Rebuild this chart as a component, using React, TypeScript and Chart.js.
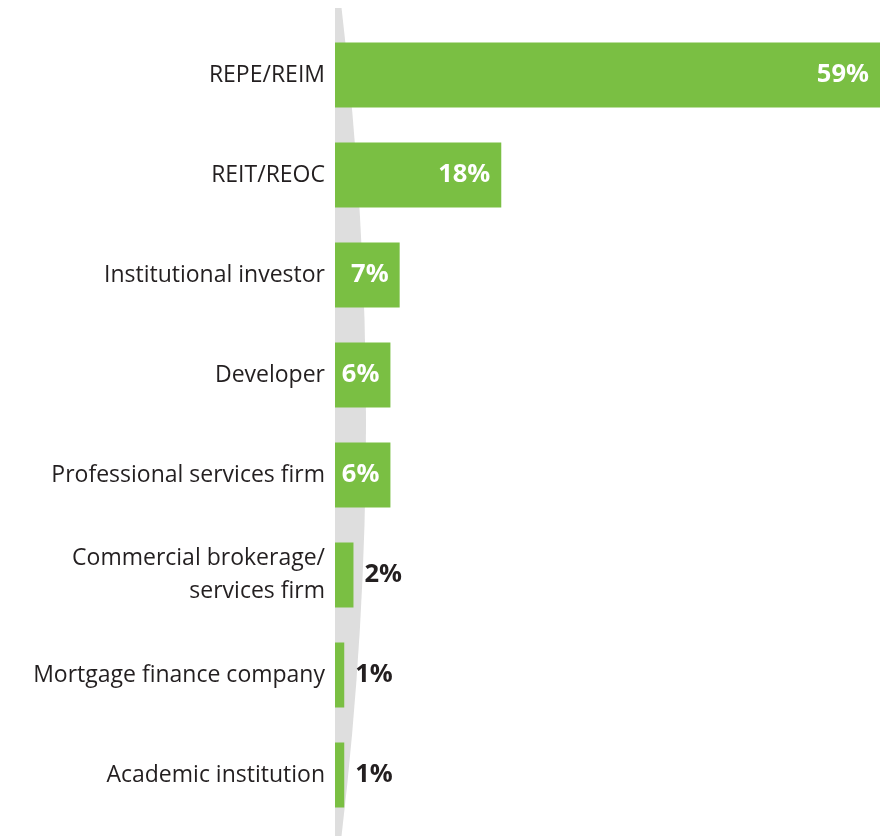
import React, { useEffect, useRef } from "react";
import { Chart, registerables } from "chart.js";

Chart.register(...registerables);

const categories: (string | string[])[] = [
  "REPE/REIM",
  "REIT/REOC",
  "Institutional investor",
  "Developer",
  "Professional services firm",
  ["Commercial brokerage/", "services firm"],
  "Mortgage finance company",
  "Academic institution",
];
const values: number[] = [59, 18, 7, 6, 6, 2, 1, 1];
const valueLabels: string[] = ["59%", "18%", "7%", "6%", "6%", "2%", "1%", "1%"];

const GREEN = "#7ABF43";
const DARK = "#231F20";
const FONT = "'Open Sans', 'Noto Sans', sans-serif";

const crescentPlugin = {
  id: "crescent",
  beforeDatasetsDraw(chart: any) {
    const { ctx, chartArea } = chart;
    const L = chartArea.left;
    const mid = 422;
    const half = 466;
    ctx.save();
    ctx.beginPath();
    ctx.rect(0, 8, chart.width, chart.height);
    ctx.clip();
    ctx.beginPath();
    ctx.moveTo(L, mid - half);
    ctx.quadraticCurveTo(L + 62, mid, L, mid + half);
    ctx.closePath();
    ctx.fillStyle = "#DEDEDE";
    ctx.fill();
    ctx.restore();
  },
};

const valueLabelPlugin = {
  id: "valueLabels",
  afterDatasetsDraw(chart: any) {
    const { ctx } = chart;
    const meta = chart.getDatasetMeta(0);
    ctx.save();
    ctx.font = `bold 25.5px ${FONT}`;
    ctx.textBaseline = "middle";
    meta.data.forEach((bar: any, i: number) => {
      const v = values[i];
      const label = valueLabels[i];
      if (v >= 6) {
        ctx.fillStyle = "#FFFFFF";
        ctx.textAlign = "right";
        ctx.fillText(label, bar.x - 11, bar.y);
      } else {
        ctx.fillStyle = DARK;
        ctx.textAlign = "left";
        ctx.fillText(label, bar.x + 11, bar.y);
      }
    });
    ctx.restore();
  },
};

export default function App() {
  const ref = useRef<HTMLCanvasElement | null>(null);
  useEffect(() => {
    document.body.style.margin = "0";
    if (!ref.current) return;
    const chart = new Chart(ref.current, {
      type: "bar",
      data: {
        labels: categories,
        datasets: [
          {
            data: values,
            backgroundColor: GREEN,
            borderWidth: 0,
            barPercentage: 0.65,
            categoryPercentage: 1,
          },
        ],
      },
      options: {
        indexAxis: "y",
        responsive: false,
        animation: false,
        layout: { padding: { top: 25, bottom: 11, right: 6, left: 0 } },
        plugins: {
          legend: { display: false },
          tooltip: { enabled: false },
        },
        scales: {
          x: {
            display: false,
            min: 0,
            max: 59,
          },
          y: {
            grid: { display: false, drawTicks: false },
            border: { display: false },
            ticks: {
              color: DARK,
              font: { family: FONT, size: 23, lineHeight: 1.42 },
              padding: 10,
              autoSkip: false,
            },
            afterFit(scale: any) {
              scale.width = 335;
              scale.paddingTop = 0;
              scale.paddingBottom = 0;
            },
          },
        },
      },
      plugins: [crescentPlugin, valueLabelPlugin],
    });
    return () => chart.destroy();
  }, []);
  return (
    <canvas
      ref={ref}
      width={886}
      height={836}
      style={{ display: "block", width: 886, height: 836 }}
    />
  );
}
